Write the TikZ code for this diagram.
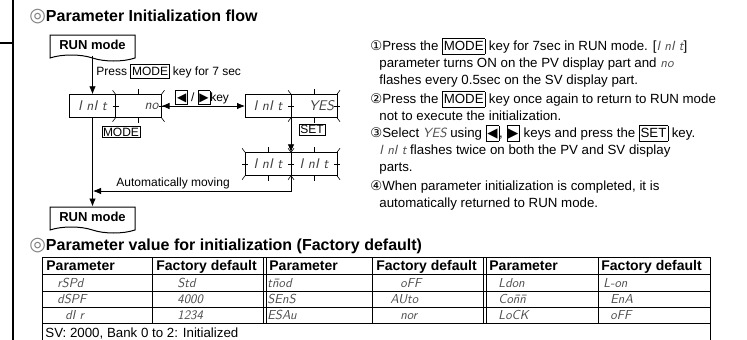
\documentclass[tikz,border=0pt]{standalone}
\usepackage{fontspec}
\setmainfont{Liberation Sans}
\newfontfamily\symfont{DejaVu Sans}
\usetikzlibrary{arrows.meta,positioning,shapes.symbols}

\definecolor{seggray}{gray}{0.3}

% 7-segment look, boxed keys, flashing ticks
\newcommand\seg[1]{{\sffamily\itshape\color{seggray}#1}}
\newcommand\key[1]{{\setlength\fboxsep{1pt}\setlength\fboxrule{0.6pt}\fbox{\rule[-0.2em]{0pt}{0.95em}#1}}}
\newcommand\flashmarks[1]{%
  \draw[flashtick] (#1.north) -- ++(0,-5);
  \draw[flashtick] (#1.south) -- ++(0,5);
  \draw[flashtick] ([xshift=-3pt]#1.west) -- ++(6,0);
  \draw[flashtick] ([xshift=-3pt]#1.east) -- ++(6,0);
  \draw[flashtick] (#1.north west) -- ++(-3,-4);
  \draw[flashtick] (#1.north east) -- ++(3,-4);
  \draw[flashtick] (#1.south west) -- ++(-3,4);
  \draw[flashtick] (#1.south east) -- ++(3,4);
}

\begin{document}
\begin{tikzpicture}[x=1pt,y=-1pt,line width=0.8pt,
  >={Latex[length=8pt,width=6.5pt]},
  segbox/.style={draw,line width=1pt,outer sep=0pt,inner sep=0pt,minimum width=46pt,minimum height=23.5pt,
    text=black!75,font=\sffamily\itshape\fontsize{14}{16}\selectfont},
  runbox/.style={draw,line width=1pt,tape,tape bend top=none,tape bend bottom=out and in,tape bend height=6pt,
    minimum width=85pt,minimum height=26pt,font=\bfseries\fontsize{13}{15}\selectfont},
  keynode/.style={draw,line width=0.6pt,inner sep=1.2pt,font=\fontsize{12}{14}\selectfont},
  lbl/.style={anchor=base west,inner sep=0pt,font=\fontsize{12}{14}\selectfont},
  body/.style={anchor=base west,inner sep=0pt,font=\fontsize{13.3}{17}\selectfont},
  sectitle/.style={anchor=base west,inner sep=0pt,font=\bfseries\fontsize{16}{18}\selectfont},
  head/.style={anchor=base west,inner sep=0pt,font=\bfseries\fontsize{14}{16}\selectfont},
  cell/.style={anchor=base west,inner sep=0pt,text=seggray,font=\sffamily\itshape\fontsize{13}{15}\selectfont},
  flashtick/.style={line width=0.6pt}]
\clip (0,0) rectangle (747,340);

% margin rule
\draw[line width=1.5pt] (13,0) -- (13,340);
\draw[line width=1.2pt] (0,43) -- (13,43);

\node[sectitle] (flowTitle) at (29,21) {{\symfont\mdseries\fontsize{19}{19}\selectfont\color{gray}◎}Parameter Initialization flow};

% flow
\node[runbox] (runTop) at (92.5,45) {RUN mode};
\node[segbox] (initA) at (92.5,106) {I nI t};
\node[segbox,right=0pt of initA,text width=40pt,align=right] (noB) {no};
\node[segbox] (yesA) at (268,106) {I nI t};
\node[segbox,right=0pt of yesA,text width=40pt,align=right] (yesB) {YES};
\node[segbox] (flashA) at (268,164) {I nI t};
\node[segbox,right=0pt of flashA] (flashB) {I nI t};
\node[runbox] (runBot) at (92.5,217) {RUN mode};

\flashmarks{noB}
\flashmarks{yesB}
\flashmarks{flashA}
\flashmarks{flashB}

\draw [->] (runTop.south) -- (initA.north);
\draw [->] (initA.south) -- (runBot.north);
\draw [<->] (noB.east) -- (yesA.west);
\draw [->] (yesB.south west) -- (flashB.north west);
\coordinate (merge) at (93,191);
\draw [->] (flashB.south west) |- (merge);

\node[lbl] (pressLbl) at (96,75) {Press \key{MODE} key for 7 sec};
\node[lbl] (arrowKeyLbl) at (175,101) {\key{\symfont◀} / \key{\symfont▶}key};
\node[keynode] (modeKey) at (121,132) {MODE};
\node[keynode] (setKey) at (312,129.5) {SET};
\node[lbl] (autoLbl) at (116,186) {Automatically moving};

% steps
\node[body] (step1a) at (370,50) {{\symfont①}Press the \key{MODE} key for 7sec in RUN mode. [\seg{I nI t}]};
\node[body] (step1b) at (379,67) {parameter turns ON on the PV display part and \seg{no}};
\node[body] (step1c) at (379,84) {flashes every 0.5sec on the SV display part.};
\node[body] (step2a) at (370,103) {{\symfont②}Press the \key{MODE} key once again to return to RUN mode};
\node[body] (step2b) at (379,120) {not to execute the initialization.};
\node[body] (step3a) at (370,137) {{\symfont③}Select \seg{YES} using \key{\symfont◀}, \key{\symfont▶} keys and press the \key{SET} key.};
\node[body] (step3b) at (379,154) {\seg{I nI t} flashes twice on both the PV and SV display};
\node[body] (step3c) at (379,171) {parts.};
\node[body] (step4a) at (370,190) {{\symfont④}When parameter initialization is completed, it is};
\node[body] (step4b) at (379,207) {automatically returned to RUN mode.};

\node[sectitle] (valueTitle) at (29,250) {{\symfont\mdseries\fontsize{19}{19}\selectfont\color{gray}◎}Parameter value for initialization (Factory default)};

% table
\foreach \y in {257,274,291,307,323}
  \draw (42,\y) -- (710,\y);
\foreach \x in {42,152,263,266,372,483,486,598,710}
  \draw (\x,257) -- (\x,323);
\draw (42,323) -- (42,340);
\draw (710,323) -- (710,340);

\node[head] (headP1) at (46,270.5) {Parameter};
\node[head] (headF1) at (156,270.5) {Factory default};
\node[head] (headP2) at (269,270.5) {Parameter};
\node[head] (headF2) at (376,270.5) {Factory default};
\node[head] (headP3) at (489,270.5) {Parameter};
\node[head] (headF3) at (601,270.5) {Factory default};

\node[cell] (c11) at (57,287) {rSPd};
\node[cell] (c12) at (177,287) {Std};
\node[cell] (c13) at (267,287) {t\=nod};
\node[cell] (c14) at (400,287) {oFF};
\node[cell] (c15) at (498,287) {Ldon};
\node[cell] (c16) at (603,287) {L-on};
\node[cell] (c21) at (57,303.5) {dSPF};
\node[cell] (c22) at (177,303.5) {4000};
\node[cell] (c23) at (267,303.5) {SEnS};
\node[cell] (c24) at (390,303.5) {AUto};
\node[cell] (c25) at (498,303.5) {Co\=n\=n};
\node[cell] (c26) at (610,303.5) {EnA};
\node[cell] (c31) at (65,319.5) {dI r};
\node[cell] (c32) at (177,319.5) {1234};
\node[cell] (c33) at (267,319.5) {ESAu};
\node[cell] (c34) at (400,319.5) {nor};
\node[cell] (c35) at (498,319.5) {LoCK};
\node[cell] (c36) at (610,319.5) {oFF};

\node[body] (svNote) at (45,337) {SV: 2000, Bank 0 to 2: Initialized};

\end{tikzpicture}
\end{document}
